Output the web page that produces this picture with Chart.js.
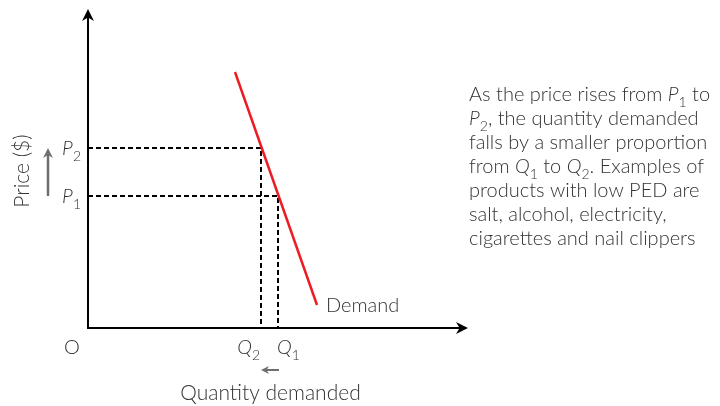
<!DOCTYPE html>
<html lang="en">
<head>
<meta charset="UTF-8">
<title>Low PED demand curve</title>
<style>
  html, body { margin: 0; padding: 0; background: #fff; }
  #wrap { width: 720px; height: 406px; }
</style>
<script src="https://cdn.jsdelivr.net/npm/chart.js"></script>
</head>
<body>
<div id="wrap"><canvas id="ped" width="720" height="406"></canvas></div>
<script>
// data (arbitrary units, 0..xMax / 0..yMax)
const xMax = 38;
const yMax = 31.9;
const demandX = [14.7, 22.9];
const demandY = [25.6, 2.3];
const priceNames = ['1', '2'];          // P1, P2
const prices = [13.2, 18];
const quantityNames = ['1', '2'];       // Q1, Q2
const quantities = [19, 17.3];
const noteLines = [
  [['As the price rises from ', 'n'], ['P', 'i'], ['1', 's'], [' to', 'n']],
  [['P', 'i'], ['2', 's'], [', the quantity demanded', 'n']],
  [['falls by a smaller proportion', 'n']],
  [['from ', 'n'], ['Q', 'i'], ['1', 's'], [' to ', 'n'], ['Q', 'i'], ['2', 's'], ['. Examples of', 'n']],
  [['products with low PED are', 'n']],
  [['salt, alcohol, electricity,', 'n']],
  [['cigarettes and nail clippers', 'n']]
];

const FONT = 'Lato, "Open Sans", sans-serif';
const TEXT = '#333333';
const GREY = '#6d6e71';

function setFont(ctx, style, size) {
  if (style === 's') ctx.font = '300 ' + Math.round(size * 0.68) + 'px ' + FONT;
  else if (style === 'i') ctx.font = 'italic 300 ' + size + 'px ' + FONT;
  else ctx.font = '300 ' + size + 'px ' + FONT;
}

function richWidth(ctx, parts, size) {
  let w = 0;
  parts.forEach(p => { setFont(ctx, p[1], size); w += ctx.measureText(p[0]).width; });
  return w;
}

// draw text with italic letters and subscripts; align: 'left' | 'right' | 'center'
function drawRich(ctx, parts, x, y, size, align) {
  const w = richWidth(ctx, parts, size);
  let cx = x;
  if (align === 'right') cx = x - w;
  if (align === 'center') cx = x - w / 2;
  ctx.textAlign = 'left';
  ctx.textBaseline = 'alphabetic';
  parts.forEach(p => {
    setFont(ctx, p[1], size);
    const dy = p[1] === 's' ? size * 0.3 : 0;
    ctx.fillText(p[0], cx, y + dy);
    cx += ctx.measureText(p[0]).width;
  });
}

function arrowHead(ctx, x, y, angle, len, half) {
  ctx.save();
  ctx.translate(x, y);
  ctx.rotate(angle);
  ctx.beginPath();
  ctx.moveTo(0, 0);
  ctx.lineTo(-len, -half);
  ctx.lineTo(-len * 0.7, 0);
  ctx.lineTo(-len, half);
  ctx.closePath();
  ctx.fill();
  ctx.restore();
}

const diagramPlugin = {
  id: 'diagramPlugin',
  afterDatasetsDraw(chart) {
    const ctx = chart.ctx;
    const xs = chart.scales.x, ys = chart.scales.y;
    const ox = xs.getPixelForValue(0), oy = ys.getPixelForValue(0);
    const xe = xs.getPixelForValue(xMax), ye = ys.getPixelForValue(yMax);
    ctx.save();

    // axes
    ctx.strokeStyle = '#000';
    ctx.fillStyle = '#000';
    ctx.lineWidth = 2;
    ctx.beginPath();
    ctx.moveTo(ox, ye + 6); ctx.lineTo(ox, oy);
    ctx.lineTo(xe - 6, oy);
    ctx.stroke();
    arrowHead(ctx, ox, ye, -Math.PI / 2, 12, 6);
    arrowHead(ctx, xe, oy, 0, 12, 6);

    // labels P and Q
    ctx.fillStyle = TEXT;
    prices.forEach((p, i) => {
      const py = ys.getPixelForValue(p);
      drawRich(ctx, [['P', 'i'], [priceNames[i], 's']], ox - 7, py + 7, 20, 'right');
    });
    quantities.forEach((q, i) => {
      const qx = xs.getPixelForValue(q);
      const right = q < Math.max(...quantities);
      drawRich(ctx, [['Q', 'i'], [quantityNames[i], 's']], qx - 1, oy + 26, 20, right ? 'right' : 'left');
    });
    drawRich(ctx, [['O', 'n']], ox - 16, oy + 26, 20, 'center');

    // demand label
    const dx = xs.getPixelForValue(demandX[1]), dy = ys.getPixelForValue(demandY[1]);
    drawRich(ctx, [['Demand', 'n']], dx + 9, dy + 7, 20, 'left');

    // axis titles
    const qMid = (xs.getPixelForValue(quantities[0]) + xs.getPixelForValue(quantities[1])) / 2;
    drawRich(ctx, [['Quantity demanded', 'n']], qMid + 1, oy + 72, 21, 'center');
    ctx.save();
    ctx.translate(29, 171);
    ctx.rotate(-Math.PI / 2);
    drawRich(ctx, [['Price ($)', 'n']], 0, 0, 21, 'center');
    ctx.restore();

    // grey direction arrows
    ctx.strokeStyle = GREY;
    ctx.fillStyle = GREY;
    ctx.lineWidth = 2.5;
    const p1y = ys.getPixelForValue(prices[0]), p2y = ys.getPixelForValue(prices[1]);
    ctx.beginPath();
    ctx.moveTo(48, p1y); ctx.lineTo(48, p2y + 6);
    ctx.stroke();
    arrowHead(ctx, 48, p2y, -Math.PI / 2, 10, 5);
    const q1x = xs.getPixelForValue(quantities[0]), q2x = xs.getPixelForValue(quantities[1]);
    ctx.lineWidth = 2;
    ctx.beginPath();
    ctx.moveTo(q1x + 1, oy + 42); ctx.lineTo(q2x + 4, oy + 42);
    ctx.stroke();
    arrowHead(ctx, q2x, oy + 42, Math.PI, 8, 4);

    // explanatory note
    ctx.fillStyle = TEXT;
    noteLines.forEach((line, i) => {
      drawRich(ctx, line, 469, 101 + i * 24, 20, 'left');
    });
    ctx.restore();
  }
};

const datasets = [{
  data: demandX.map((x, i) => ({ x: x, y: demandY[i] })),
  borderColor: '#ed1c24',
  borderWidth: 2.5
}];
prices.forEach((p, i) => {
  datasets.push({
    data: [{ x: 0, y: p }, { x: quantities[i], y: p }, { x: quantities[i], y: 0 }],
    borderColor: '#000',
    borderWidth: 2,
    borderDash: [5, 3]
  });
});
datasets.forEach(d => { d.showLine = true; d.pointRadius = 0; d.fill = false; });

new Chart(document.getElementById('ped'), {
  type: 'scatter',
  data: { datasets: datasets },
  options: {
    responsive: false,
    animation: false,
    events: [],
    layout: { padding: { left: 88, right: 252, top: 9, bottom: 78 } },
    scales: {
      x: { type: 'linear', min: 0, max: xMax, display: false },
      y: { type: 'linear', min: 0, max: yMax, display: false }
    },
    plugins: { legend: { display: false }, tooltip: { enabled: false } }
  },
  plugins: [diagramPlugin]
});
</script>
</body>
</html>
